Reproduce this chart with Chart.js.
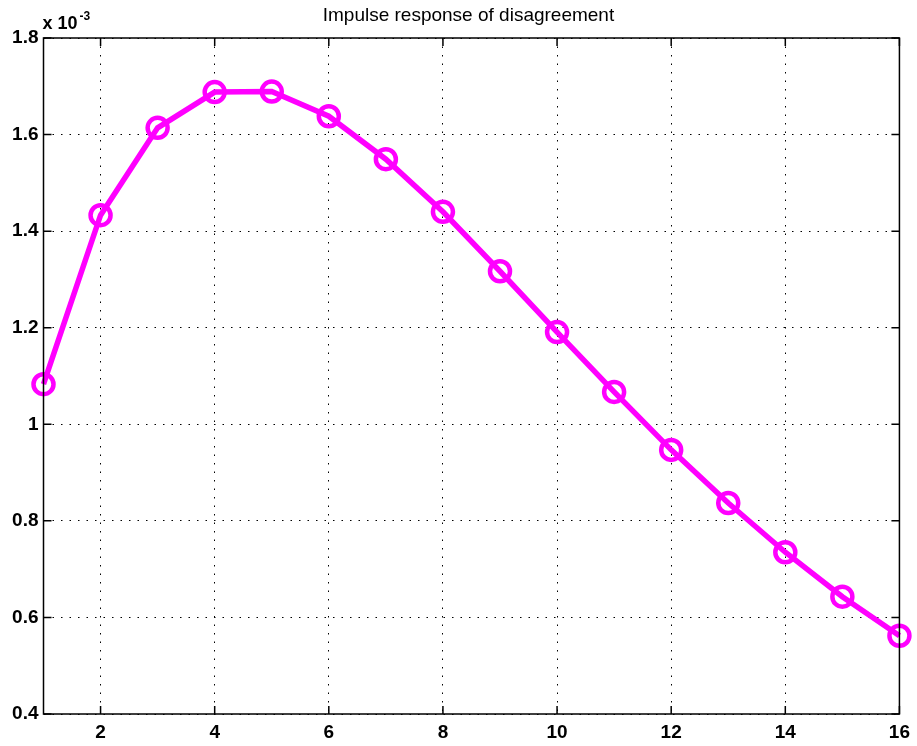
<!DOCTYPE html>
<html>
<head>
<meta charset="utf-8">
<script src="https://cdn.jsdelivr.net/npm/chart.js@4.4.1/dist/chart.umd.min.js"></script>
<style>
  html, body { margin: 0; padding: 0; background: #fff; }
  #wrap { width: 917px; height: 746px; position: relative; }
</style>
</head>
<body>
<div id="wrap"><canvas id="chart"></canvas></div>
<script>
/* -------- Data (values in units of 1e-3) -------- */
const periods = [1, 2, 3, 4, 5, 6, 7, 8, 9, 10, 11, 12, 13, 14, 15, 16];
const disagreement = [1.083, 1.433, 1.614, 1.688, 1.689, 1.638, 1.549, 1.440,
                      1.317, 1.191, 1.067, 0.947, 0.837, 0.735, 0.643, 0.562];
const xTicks = [2, 4, 6, 8, 10, 12, 14, 16];
const yTicks = [0.4, 0.6, 0.8, 1, 1.2, 1.4, 1.6, 1.8];
const titleText = "Impulse response of disagreement";

const tickFont = { family: "'Liberation Sans', Arial, sans-serif", size: 19, weight: "bold" };

/* ---------- Frame, inward ticks, title, exponent ---------- */
const framePlugin = {
  id: "frame",
  afterDraw(chart) {
    const { ctx, chartArea: a, scales: { x, y } } = chart;
    ctx.save();
    ctx.strokeStyle = "#000";
    ctx.lineWidth = 1.5;
    ctx.strokeRect(a.left, a.top, a.right - a.left, a.bottom - a.top);
    const tl = 8;
    ctx.beginPath();
    for (const v of xTicks) {
      const px = x.getPixelForValue(v);
      ctx.moveTo(px, a.bottom); ctx.lineTo(px, a.bottom - tl);
      ctx.moveTo(px, a.top); ctx.lineTo(px, a.top + tl);
    }
    for (const v of yTicks) {
      const py = y.getPixelForValue(v);
      ctx.moveTo(a.left, py); ctx.lineTo(a.left + tl, py);
      ctx.moveTo(a.right, py); ctx.lineTo(a.right - tl, py);
    }
    ctx.stroke();

    // title
    ctx.fillStyle = "#000";
    ctx.textAlign = "center";
    ctx.textBaseline = "middle";
    ctx.font = "19px 'Liberation Sans', Arial, sans-serif";
    ctx.fillText(titleText, (a.left + a.right) / 2 - 3, 16);

    // exponent
    ctx.textAlign = "left";
    ctx.textBaseline = "alphabetic";
    ctx.font = "bold 18px 'Liberation Sans', Arial, sans-serif";
    ctx.fillText("x 10", a.left - 1, 29);
    const w = ctx.measureText("x 10").width;
    ctx.font = "bold 12px 'Liberation Sans', Arial, sans-serif";
    ctx.fillText("-3", a.left + w + 1, 20);
    ctx.restore();
  }
};

new Chart(document.getElementById("chart"), {
  type: "line",
  data: {
    labels: periods,
    datasets: [{
      data: periods.map((p, i) => ({ x: p, y: disagreement[i] })),
      borderColor: "#ff00ff",
      borderWidth: 5.5,
      backgroundColor: "transparent",
      pointStyle: "circle",
      pointRadius: 10,
      pointBorderWidth: 4.5,
      pointBorderColor: "#ff00ff",
      pointBackgroundColor: "transparent",
      tension: 0,
      clip: false
    }]
  },
  options: {
    responsive: true,
    maintainAspectRatio: false,
    animation: false,
    layout: { padding: { top: 38, right: 15, left: 0, bottom: 0 } },
    plugins: { legend: { display: false }, title: { display: false }, tooltip: { enabled: false } },
    scales: {
      x: {
        type: "linear",
        min: 1,
        max: 16,
        afterBuildTicks: s => { s.ticks = xTicks.map(v => ({ value: v })); },
        afterFit: s => { s.height = 32; },
        grid: { color: "#000", lineWidth: 1, drawTicks: false },
        border: { display: false, dash: [1.5, 7] },
        ticks: { color: "#000", font: tickFont, padding: 7, maxRotation: 0 }
      },
      y: {
        type: "linear",
        min: 0.4,
        max: 1.8,
        afterBuildTicks: s => { s.ticks = yTicks.map(v => ({ value: v })); },
        afterFit: s => { s.width = 43.5; },
        grid: { color: "#000", lineWidth: 1, drawTicks: false },
        border: { display: false, dash: [1.5, 7] },
        ticks: { color: "#000", font: tickFont, padding: 5, callback: v => String(Math.round(v * 10) / 10) }
      }
    }
  },
  plugins: [framePlugin]
});
</script>
</body>
</html>
